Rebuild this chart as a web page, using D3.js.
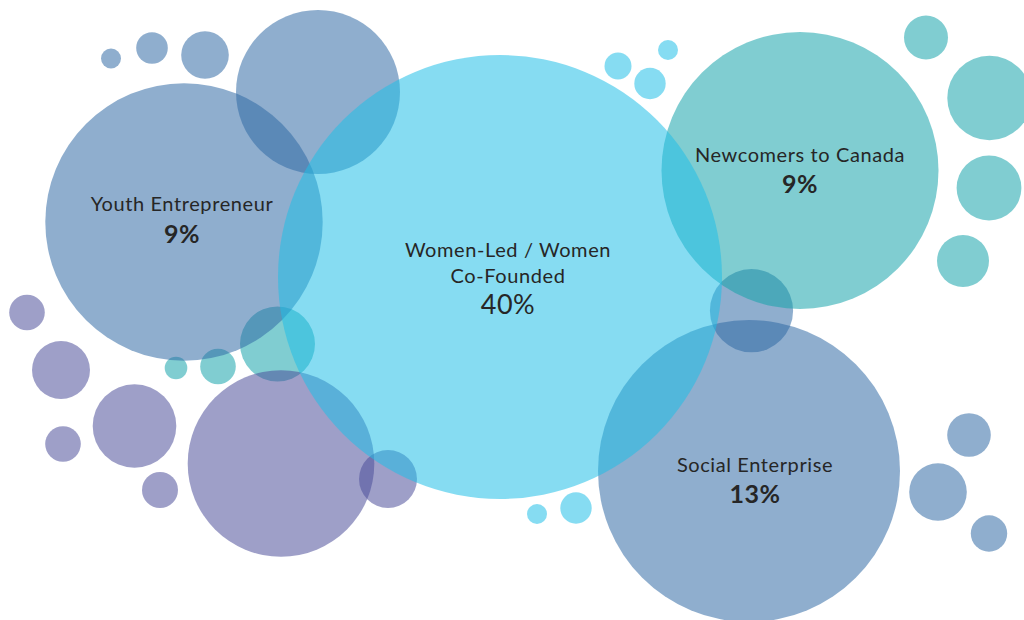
<!DOCTYPE html>
<html>
<head>
<meta charset="utf-8">
<script src="https://cdn.jsdelivr.net/npm/d3@7"></script>
<style>
  html, body { margin: 0; padding: 0; background: #ffffff; }
  svg { display: block; }
  text { font-family: "Lato", "Open Sans", sans-serif; fill: #262626; }
</style>
</head>
<body>
<svg id="chart" width="1024" height="620"></svg>
<script>
// ---- Data ----
// Labelled bubbles (categories and shares)
const categories = ["Women-Led / Women Co-Founded", "Youth Entrepreneur", "Newcomers to Canada", "Social Enterprise"];
const shares = [40, 9, 9, 13];
const labelLines = [["Women-Led / Women", "Co-Founded"], ["Youth Entrepreneur"], ["Newcomers to Canada"], ["Social Enterprise"]];
const labelGroups = ["cyan", "blue", "teal", "blue"];
const labelX = [500, 184, 800, 749];
const labelY = [277, 222, 170.5, 471];
const labelR = [222, 138.7, 138.5, 151];

// Decorative bubbles
const decoGroups = ["blue", "teal", "blue", "blue", "blue", "blue",
  "teal", "teal", "purple", "purple", "purple", "purple", "purple", "purple", "purple",
  "cyan", "cyan", "cyan", "teal", "teal", "teal", "teal",
  "blue", "blue", "blue", "cyan", "cyan"];
const decoX = [751.5, 277.5, 111, 152, 205, 318,
  176, 218, 27, 61, 134.5, 63, 160, 388, 281,
  618, 650, 668, 926, 989.5, 989, 963,
  969, 938, 989, 537, 576];
const decoY = [310.7, 344, 58.5, 48, 55, 92,
  368, 366.5, 312.5, 370, 426, 444, 490, 479, 463.5,
  66, 83.5, 50, 37.5, 98, 188, 261,
  435, 492, 533.5, 514, 508];
const decoR = [41.6, 37.5, 10, 15.8, 23.8, 82,
  11.3, 17.8, 17.8, 29, 41.8, 17.8, 18, 29, 93.3,
  13.5, 15.7, 10, 22, 42.2, 32.4, 26,
  21.8, 28.8, 18.2, 10, 15.7];

const groupNames = ["blue", "teal", "purple", "cyan"];
const groupColors = ["#3069a4", "#14a2aa", "#4c4d99", "#1fbee7"];

// ---- Scales ----
const W = 1024, H = 620;
const x = d3.scaleLinear().domain([0, 1024]).range([0, W]);
const y = d3.scaleLinear().domain([0, 620]).range([0, H]);
const r = d3.scaleLinear().domain([0, 1024]).range([0, W]);
const color = d3.scaleOrdinal().domain(groupNames).range(groupColors);

const svg = d3.select("#chart");

const deco = decoX.map((d, i) => ({ x: d, y: decoY[i], r: decoR[i], g: decoGroups[i] }));
const main = categories.map((c, i) => ({ name: c, share: shares[i], lines: labelLines[i], x: labelX[i], y: labelY[i], r: labelR[i], g: labelGroups[i] }));

// draw order: decorative bubbles, then labelled non-cyan, then cyan big on top
const drawOrder = [
  ...deco.filter(d => d.g !== "cyan"),
  ...main.filter(d => d.g !== "cyan"),
  ...deco.filter(d => d.g === "cyan"),
  ...main.filter(d => d.g === "cyan")
];

svg.append("g").selectAll("circle")
  .data(drawOrder)
  .join("circle")
  .attr("cx", d => x(d.x))
  .attr("cy", d => y(d.y))
  .attr("r", d => r(d.r))
  .attr("fill", d => color(d.g))
  .attr("fill-opacity", 0.54);

// ---- Labels ----
const lg = svg.append("g");
main.forEach((d, i) => {
  const cx = x(d.x);
  if (d.g === "cyan") {
    lg.append("text").attr("x", cx + 8).attr("y", y(257)).attr("text-anchor", "middle")
      .attr("font-size", 20).attr("letter-spacing", 0.6).text(d.lines[0]);
    lg.append("text").attr("x", cx + 8).attr("y", y(283)).attr("text-anchor", "middle")
      .attr("font-size", 20).attr("letter-spacing", 0.6).text(d.lines[1]);
    lg.append("text").attr("x", cx + 8).attr("y", y(314)).attr("text-anchor", "middle")
      .attr("font-size", 27).attr("letter-spacing", 0.5).text(d.share + "%");
  } else {
    const offs = { "Youth Entrepreneur": [-2, 211, 243], "Newcomers to Canada": [0, 162, 193], "Social Enterprise": [6, 472, 503] }[d.name];
    lg.append("text").attr("x", cx + offs[0]).attr("y", y(offs[1])).attr("text-anchor", "middle")
      .attr("font-size", 20).attr("letter-spacing", 0.6).text(d.lines[0]);
    lg.append("text").attr("x", cx + offs[0]).attr("y", y(offs[2])).attr("text-anchor", "middle")
      .attr("font-size", 25).attr("font-weight", "bold").attr("letter-spacing", 0.5).text(d.share + "%");
  }
});
</script>
</body>
</html>
